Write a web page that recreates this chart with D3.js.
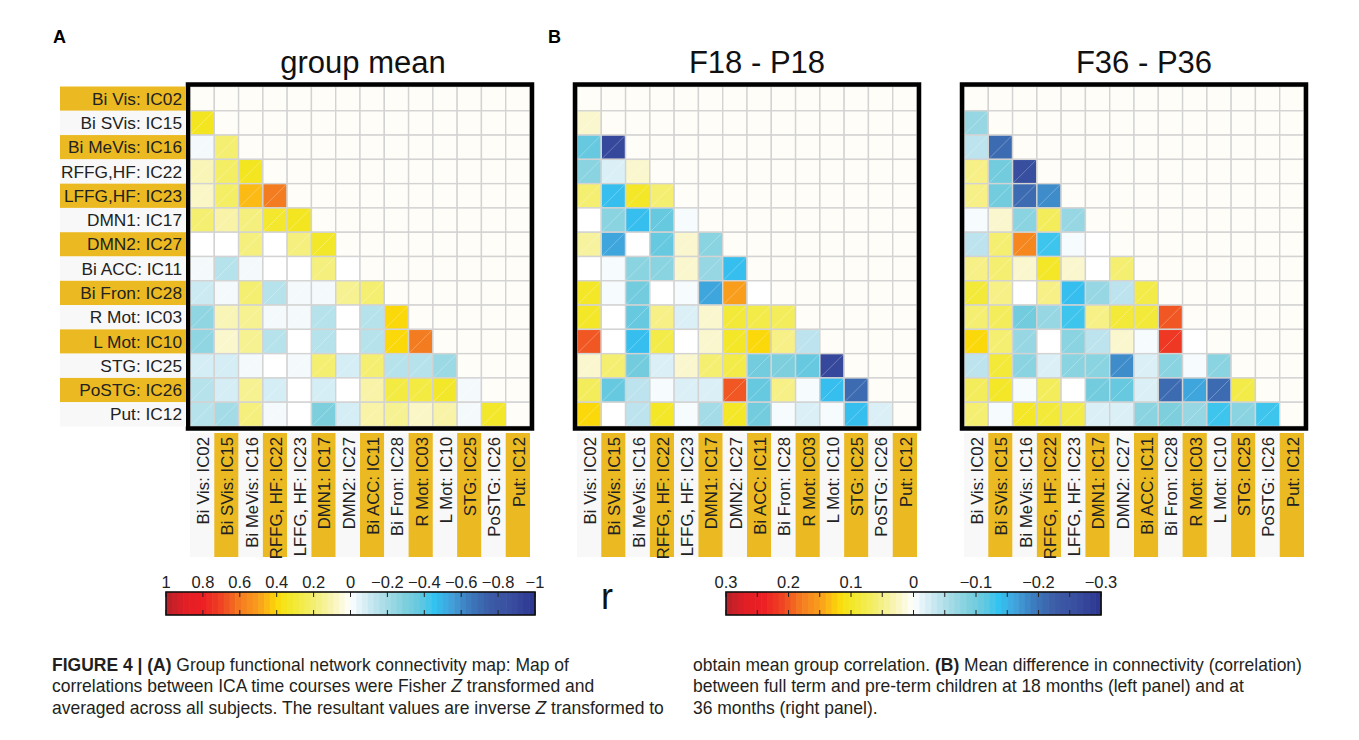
<!DOCTYPE html>
<html><head><meta charset="utf-8">
<script src="https://cdn.jsdelivr.net/npm/d3@7"></script>
<style>body{margin:0;background:#fff}svg{display:block}</style>
</head><body>
<svg id="fig" width="1359" height="740"></svg>
<script>
// ---------------- data ----------------
const rowLabels = ["Bi Vis: IC02","Bi SVis: IC15","Bi MeVis: IC16","RFFG,HF: IC22","LFFG,HF: IC23","DMN1: IC17","DMN2: IC27","Bi ACC: IC11","Bi Fron: IC28","R Mot: IC03","L Mot: IC10","STG: IC25","PoSTG: IC26","Put: IC12"];
const colLabels = ["Bi Vis: IC02","Bi SVis: IC15","Bi MeVis: IC16","RFFG, HF: IC22","LFFG, HF: IC23","DMN1: IC17","DMN2: IC27","Bi ACC: IC11","Bi Fron: IC28","R Mot: IC03","L Mot: IC10","STG: IC25","PoSTG: IC26","Put: IC12"];

// lower-triangle values (row i has i entries, columns 0..i-1)
const groupMean = [
  [],
  [0.35],
  [-0.02, 0.2],
  [0.1, 0.22, 0.35],
  [0.08, 0.22, 0.45, 0.6],
  [0.2, 0.12, 0.18, 0.32, 0.35],
  [0, 0, 0.18, 0, 0.18, 0.33],
  [-0.02, -0.15, -0.02, 0, 0, 0.18, 0],
  [-0.1, -0.02, 0.2, -0.15, -0.02, -0.02, 0.15, 0.2],
  [-0.25, 0.1, 0.15, -0.02, -0.02, -0.15, 0, -0.15, 0.4],
  [-0.25, 0.07, 0.15, -0.15, 0, -0.15, 0, -0.15, 0.4, 0.6],
  [-0.08, -0.08, -0.02, 0, -0.02, 0.2, -0.08, 0.2, -0.15, -0.15, -0.22],
  [-0.15, -0.08, 0.15, -0.08, 0, -0.08, 0, 0.12, 0.28, 0.28, 0.33, -0.02],
  [-0.15, -0.2, 0.18, -0.02, 0, -0.3, -0.08, 0.12, 0.15, 0.08, 0.12, -0.02, 0.33]
];
const f18 = [
  [],
  [0.02],
  [-0.11, -0.27],
  [-0.08, -0.02, 0.02],
  [0.06, -0.14, 0.1, 0.06],
  [0, -0.08, -0.14, -0.11, -0.005],
  [0.04, -0.16, 0, -0.11, 0.02, -0.08],
  [0, -0.005, -0.08, -0.08, 0.02, -0.07, -0.14],
  [0.1, -0.005, -0.1, 0, -0.005, -0.16, 0.15, 0],
  [0.1, 0, -0.11, 0.05, -0.02, 0.02, 0.09, 0.08, 0.07],
  [0.2, 0, -0.14, 0.08, 0, 0.02, 0.1, 0.12, 0.05, -0.04],
  [0.02, 0.06, -0.1, -0.02, 0.02, 0.06, 0.08, -0.1, -0.09, -0.11, -0.27],
  [0.07, -0.11, -0.04, -0.005, -0.02, -0.02, 0.2, -0.11, 0.05, -0.005, -0.14, -0.21],
  [0.12, 0, -0.04, 0.1, -0.005, -0.06, 0.1, -0.1, -0.005, -0.02, -0.005, -0.14, -0.02]
];
const f36 = [
  [],
  [-0.07],
  [-0.04, -0.21],
  [0.05, -0.1, -0.26],
  [0.05, -0.1, -0.21, -0.18],
  [-0.005, 0.02, -0.08, 0.07, -0.07],
  [-0.04, 0.06, 0.17, -0.13, -0.005, 0],
  [0.05, 0.06, 0.02, 0.1, 0.02, 0, 0.06],
  [0.09, 0.05, 0, 0.05, -0.14, -0.07, -0.04, 0.08],
  [0.06, 0.07, -0.1, -0.07, -0.13, 0.05, 0.09, 0.09, 0.2],
  [0.12, 0.06, -0.07, 0, -0.08, -0.04, 0.02, -0.005, 0.22, 0],
  [-0.04, 0.09, -0.08, -0.02, -0.08, -0.08, -0.18, -0.02, -0.08, -0.005, -0.08],
  [0.07, 0.1, -0.005, 0.07, 0, -0.1, -0.11, -0.02, -0.21, -0.16, -0.21, 0.08],
  [0.06, -0.005, 0.1, 0.09, 0.08, -0.02, -0.02, -0.08, -0.09, -0.07, -0.13, -0.08, -0.13]
];
const panelTitles = ["group mean", "F18 - P18", "F36 - P36"];
const ticksA = [1, 0.8, 0.6, 0.4, 0.2, 0, -0.2, -0.4, -0.6, -0.8, -1];
const ticksB = [0.3, 0.2, 0.1, 0, -0.1, -0.2, -0.3];

// colormap (normalized value -> colour)
const cmapStops = [1, 0.9, 0.8, 0.7, 0.6, 0.5, 0.45, 0.4, 0.35, 0.25, 0.15, 0.07, 0, -0.05, -0.12, -0.2, -0.3, -0.38, -0.45, -0.55, -0.65, -0.75, -0.88, -1];
const cmapColors = ["#b5202a","#e21f26","#ed1f24","#ef4423","#f47c20","#f99d1c","#fcbb14","#fbd80a","#f3e620","#f3ec50","#f6f191","#faf7cc","#ffffff","#e3f3f8","#c2e6ef","#a3dbe6","#7dcfdd","#62c8e0","#33c4f2","#42a0d9","#3c78bc","#3c5da8","#384c9e","#2b3590"];

// ---------------- drawing ----------------
const svg = d3.select("#fig");
const FONT = "'Liberation Sans', Arial, Helvetica, sans-serif";
const cmap = d3.scaleLinear().domain(cmapStops).range(cmapColors).interpolate(d3.interpolateRgb).clamp(true);
const GOLD = "#ebb921", PALE = "#f8f8f8", BLANK = "#fffdf7";
const N = rowLabels.length;
const SIZE = 340, TOP = 86.5;

const panels = [
  {data: groupMean, max: 1, left: 190},
  {data: f18, max: 0.3, left: 577},
  {data: f36, max: 0.3, left: 964}
];

panels.forEach((p, k) => {
  const x = d3.scaleBand().domain(d3.range(N)).range([p.left, p.left + SIZE]);
  const y = d3.scaleBand().domain(d3.range(N)).range([TOP, TOP + SIZE]);
  const g = svg.append("g");
  const cells = [];
  for (let i = 0; i < N; i++) for (let j = 0; j < N; j++)
    cells.push({i, j, v: j < i ? (p.data[i][j] ?? 0) : null});
  g.selectAll("rect.cell").data(cells).join("rect")
    .attr("x", d => x(d.j)).attr("y", d => y(d.i))
    .attr("width", x.bandwidth()).attr("height", y.bandwidth())
    .attr("fill", d => d.v === null ? BLANK : cmap(d.v / p.max))
    .attr("stroke", "#d3d3d3").attr("stroke-width", 1.4);
  g.selectAll("line.diag").data(cells.filter(d => d.v !== null && d.v !== 0)).join("line")
    .attr("x1", d => x(d.j) + 1).attr("y1", d => y(d.i) + y.bandwidth() - 1)
    .attr("x2", d => x(d.j) + x.bandwidth() - 1).attr("y2", d => y(d.i) + 1)
    .attr("stroke", "#fff").attr("stroke-opacity", 0.35).attr("stroke-width", 0.8);
  // frame
  g.append("rect").attr("x", p.left - 2).attr("y", TOP - 2)
    .attr("width", SIZE + 4).attr("height", SIZE + 4)
    .attr("fill", "none").attr("stroke", "#000").attr("stroke-width", 4.5);
  // title
  g.append("text").attr("x", p.left + SIZE / 2 + (k === 0 ? 3 : 10)).attr("y", 73)
    .attr("text-anchor", "middle").attr("font-family", FONT).attr("font-size", 31)
    .attr("fill", "#111").text(panelTitles[k]);
  // column labels
  const cl = g.selectAll("g.col").data(colLabels).join("g")
    .attr("transform", (d, j) => `translate(${x(j)},433)`);
  cl.append("rect").attr("width", x.bandwidth()).attr("height", 124)
    .attr("fill", (d, j) => j % 2 === 1 ? GOLD : PALE);
  cl.append("text")
    .attr("transform", `translate(${x.bandwidth() / 2 + 1},4) rotate(-90)`)
    .attr("text-anchor", "end").attr("dy", "0.35em")
    .attr("font-family", FONT).attr("font-size", 16.8).attr("fill", "#222")
    .text(d => d);
  // row labels (only first panel)
  if (k === 0) {
    const rl = g.selectAll("g.row").data(rowLabels).join("g")
      .attr("transform", (d, i) => `translate(60,${y(i)})`);
    rl.append("rect").attr("width", 126).attr("height", y.bandwidth())
      .attr("fill", (d, i) => i % 2 === 0 ? GOLD : PALE);
    rl.append("text").attr("x", 122).attr("y", y.bandwidth() / 2).attr("dy", "0.35em")
      .attr("text-anchor", "end").attr("font-family", FONT).attr("font-size", 17.3)
      .attr("fill", "#222").text(d => d);
  }
});

// panel letters
svg.append("text").attr("x", 53).attr("y", 43).attr("font-family", FONT)
  .attr("font-weight", "bold").attr("font-size", 18).text("A");
svg.append("text").attr("x", 548).attr("y", 43).attr("font-family", FONT)
  .attr("font-weight", "bold").attr("font-size", 18).text("B");

// colorbars
function colorbar(x0, x1, max, labels, tickStep) {
  const s = d3.scaleLinear().domain([max, -max]).range([x0, x1]);
  const g = svg.append("g");
  const steps = 64, w = (x1 - x0) / steps;
  g.selectAll("rect.step").data(d3.range(steps)).join("rect")
    .attr("x", i => x0 + i * w).attr("y", 592).attr("width", w + 0.6).attr("height", 23)
    .attr("fill", i => cmap(s.invert(x0 + (i + 0.5) * w) / max));
  const tv = d3.range(Math.round(2 * max / tickStep) + 1).map(i => max - i * tickStep);
  g.selectAll("line.t1").data(tv).join("line")
    .attr("x1", d => s(d)).attr("x2", d => s(d)).attr("y1", 592).attr("y2", 597)
    .attr("stroke", "#222").attr("stroke-width", 1);
  g.selectAll("line.t2").data(tv).join("line")
    .attr("x1", d => s(d)).attr("x2", d => s(d)).attr("y1", 610).attr("y2", 615)
    .attr("stroke", "#222").attr("stroke-width", 1);
  g.append("rect").attr("x", x0).attr("y", 592).attr("width", x1 - x0).attr("height", 23)
    .attr("fill", "none").attr("stroke", "#111").attr("stroke-width", 1.6);
  g.selectAll("text").data(labels).join("text")
    .attr("x", d => s(d)).attr("y", 588).attr("text-anchor", "middle")
    .attr("font-family", FONT).attr("font-size", 16.5).attr("fill", "#222")
    .text(d => d === 0 ? "0" : (d < 0 ? "\u2212" + Math.abs(d) : String(d)));
}
colorbar(166, 535, 1, ticksA, 0.2);
colorbar(726, 1101, 0.3, ticksB, 0.05);

svg.append("text").attr("x", 607).attr("y", 609).attr("text-anchor", "middle")
  .attr("font-family", FONT).attr("font-size", 36).attr("fill", "#111").text("r");

// caption (condensed look: larger font squeezed horizontally)
const capLines = [
  {x: 52, y: 671, parts: [["FIGURE 4 | (A)", true], [" Group functional network connectivity map: Map of", false]]},
  {x: 52, y: 692, parts: [["correlations between ICA time courses were Fisher ", false], ["Z", false, true], [" transformed and", false]]},
  {x: 52, y: 714, parts: [["averaged across all subjects. The resultant values are inverse ", false], ["Z", false, true], [" transformed to", false]]},
  {x: 693, y: 671, parts: [["obtain mean group correlation. ", false], ["(B)", true], [" Mean difference in connectivity (correlation)", false]]},
  {x: 693, y: 692, parts: [["between full term and pre-term children at 18 months (left panel) and at", false]]},
  {x: 693, y: 714, parts: [["36 months (right panel).", false]]}
];
capLines.forEach(l => {
  const t = svg.append("text")
    .attr("transform", `translate(${l.x},${l.y}) scale(0.94,1)`)
    .attr("font-family", FONT).attr("font-size", 18.6).attr("fill", "#231f20");
  l.parts.forEach(p => {
    t.append("tspan").attr("font-weight", p[1] ? "bold" : "normal")
      .attr("font-style", p[2] ? "italic" : "normal").text(p[0]);
  });
});
</script>
</body></html>
